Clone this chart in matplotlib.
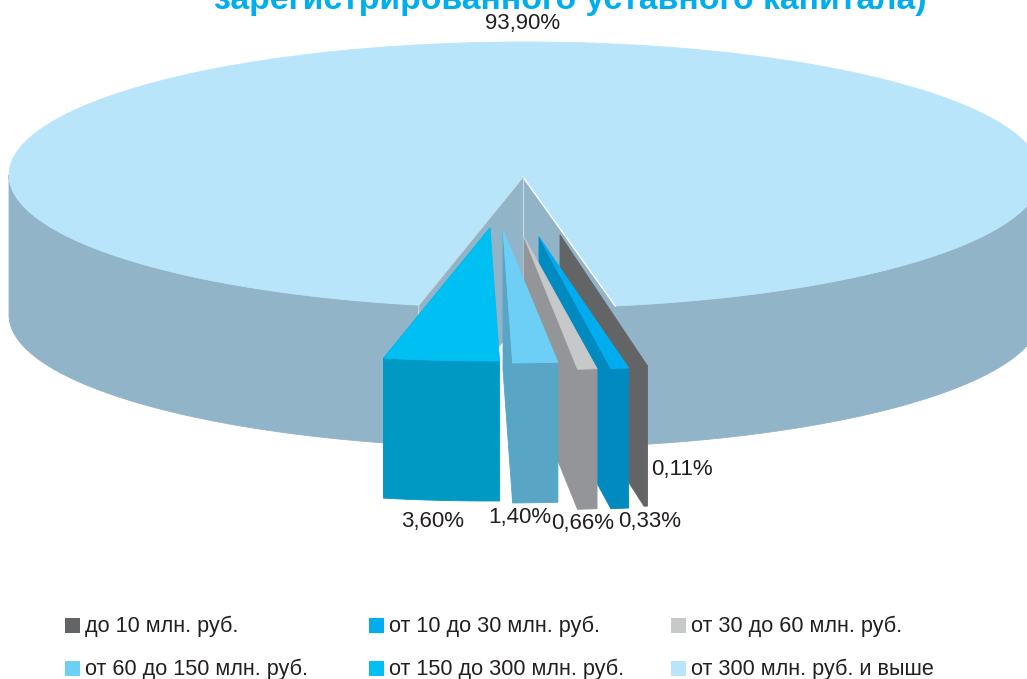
#!/usr/bin/env python
# coding: utf-8
import numpy as np
import matplotlib as mpl
mpl.use('Agg')
import matplotlib.pyplot as plt
from matplotlib.patches import Polygon, Rectangle

plt.rcParams['font.family'] = ['Liberation Sans', 'DejaVu Sans']

# Data, in chart order (starts on the right, runs clockwise)
categories = ['до 10 млн. руб.', 'от 10 до 30 млн. руб.', 'от 30 до 60 млн. руб.',
              'от 60 до 150 млн. руб.', 'от 150 до 300 млн. руб.', 'от 300 млн. руб. и выше']
shares = [0.11, 0.33, 0.66, 1.40, 3.60, 93.90]
share_labels = ['0,11%', '0,33%', '0,66%', '1,40%', '3,60%', '93,90%']
title = 'зарегистрированного уставного капитала)'

# Colours
top_colors = ['#636466', '#00AEEF', '#C7C8CA', '#6DCFF6', '#00BFF3', '#B9E5FB']
side_colors = ['#636466', '#008ABF', '#939598', '#58A5C6', '#0099C3', '#92B4C8']
text_color = '#231F20'

# Pie geometry, in figure pixels
CX, CY = 525, 175
RX, RY = 516, 133
DEPTH = 140
START_DEG = 10.07            # angle from the bottom of the ellipse
NOTCH_APEX = (523, 177)
# where the tip of each pulled out slice ends up
slice_apex = [(560, 235), (539, 237), (524, 237), (503, 230), (490, 228)]
# the thin slices are not drawn exactly to their share in the original
widen_deg = [0.0, 0.81, -0.2, 0.0, 0.0]
start_shift = [-0.3, 0.33, -0.35, 0.0, 0.0]

label_xy = [(682, 469), (650, 521), (583, 523), (520, 518), (433, 522), (523, 24)]
legend_x = [65, 369, 671]
legend_y = [625, 668]


def arc(cx, cy, a0, a1, n=80):
    t = np.radians(np.linspace(a0, a1, n))
    return np.column_stack((cx + RX * np.sin(t), cy + RY * np.cos(t)))


def fill(ax, pts, color, z=1):
    ax.add_patch(Polygon(pts, closed=True, facecolor=color, edgecolor=color, linewidth=0.6, zorder=z))


fig = plt.figure(figsize=(10.27, 6.79), dpi=100)
ax = fig.add_axes([0, 0, 1, 1])
ax.set_xlim(0, 1027)
ax.set_ylim(679, 0)
ax.axis('off')

degrees = [s * 3.6 for s in shares]
small_total = sum(degrees[:5])
big_right = START_DEG
big_left = START_DEG - small_total

# Big slice: outer wall, walls of the notch, then the top
outer = arc(CX, CY, big_right, 90)
fill(ax, np.vstack((outer, (outer + [0, DEPTH])[::-1])), side_colors[5])
outer = arc(CX, CY, big_left, -90)
fill(ax, np.vstack((outer, (outer + [0, DEPTH])[::-1])), side_colors[5])
for a in (big_left, big_right):
    p = arc(CX, CY, a, a, 1)[0]
    fill(ax, [NOTCH_APEX, p, p + [0, DEPTH], (NOTCH_APEX[0], NOTCH_APEX[1] + DEPTH)], side_colors[5])
top = arc(CX, CY, big_right, 360 + big_left, 400)
fill(ax, np.vstack(([NOTCH_APEX], top)), top_colors[5], 2)

# notch edges
p = arc(CX, CY, big_right, big_right, 1)[0]
ax.plot([NOTCH_APEX[0], p[0]], [NOTCH_APEX[1], p[1]], color='white', lw=1.0, zorder=3)
ax.plot([NOTCH_APEX[0]] * 2, [NOTCH_APEX[1], NOTCH_APEX[1] + 105], color='#C9DCE6', lw=0.8, zorder=3)
p = arc(CX, CY, big_left, big_left, 1)[0]
ax.plot([NOTCH_APEX[0], p[0], p[0]], [NOTCH_APEX[1], p[1], p[1] + 12], color='#C9DCE6', lw=0.8, zorder=3)

# Small slices, back to front
angle = START_DEG
for i in range(5):
    a1 = angle + start_shift[i]
    a0 = a1 - degrees[i] - widen_deg[i]
    angle -= degrees[i]
    ax_, ay_ = slice_apex[i]
    edge = arc(ax_, ay_, a0, a1)
    low = edge + [0, DEPTH]
    wall = [(ax_, ay_), edge[0], low[0], (ax_, ay_ + DEPTH)]
    z = 4 + i
    fill(ax, wall, side_colors[i], z)
    fill(ax, np.vstack((edge, low[::-1])), side_colors[i], z)
    fill(ax, np.vstack(([(ax_, ay_)], edge)), top_colors[i], z)

# Percent labels
for txt, (x, y) in zip(share_labels, label_xy):
    ax.text(x, y, txt, fontsize=16, color=text_color, ha='center', va='center', zorder=20)

# Title, its top is cut off by the page in the original
ax.text(570, 9, title, fontsize=24.3, fontweight='bold', color='#00AEEF',
        ha='center', va='baseline', zorder=20)

# Legend, three columns by two rows
for i, name in enumerate(categories):
    x = legend_x[i % 3]
    y = legend_y[i // 3]
    ax.add_patch(Rectangle((x, y - 7.5), 15, 15, facecolor=top_colors[i], edgecolor='none'))
    ax.text(x + 20, y + 1, name, fontsize=15.6, color=text_color, ha='left', va='center')

plt.savefig('out.png', dpi=100)
